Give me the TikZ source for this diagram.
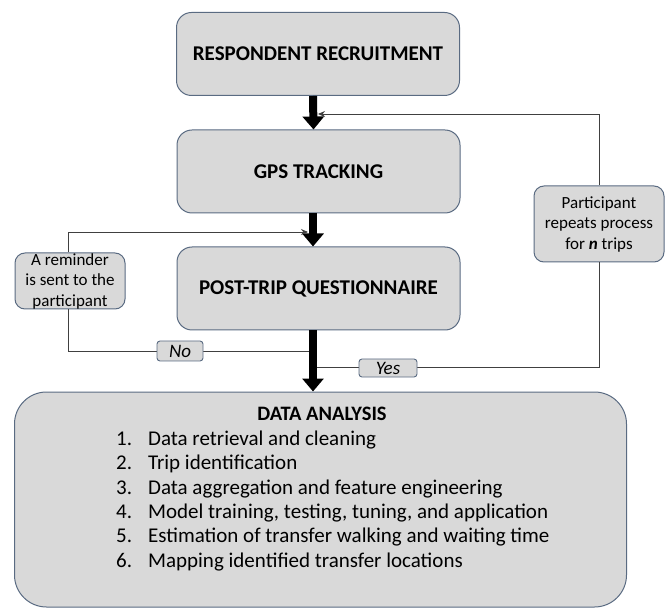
\documentclass[tikz,border=0pt]{standalone}
\usepackage{fontspec}
\setmainfont{Carlito}
\usetikzlibrary{arrows.meta,calc}
\definecolor{boxfill}{HTML}{D9D9D9}
\definecolor{boxedge}{HTML}{5A6B82}
\definecolor{linegray}{HTML}{404040}
\tikzset{
  mainbox/.style={draw=boxedge, line width=1pt, fill=boxfill, rounded corners=15pt,
    minimum width=283pt, minimum height=83pt, inner sep=0pt,
    font=\fontsize{21}{24}\selectfont\bfseries},
  sidebox/.style={draw=boxedge, line width=1pt, fill=boxfill, rounded corners=10pt,
    inner sep=0pt, align=center, font=\fontsize{17}{20.5}\selectfont},
  tagbox/.style={draw=boxedge, line width=0.9pt, fill=boxfill, rounded corners=3pt,
    inner sep=0pt, font=\fontsize{19}{21}\selectfont\itshape},
  bigarrow/.style={line width=8pt, -{Triangle[length=13pt,width=21pt]}},
  thinline/.style={draw=linegray, line width=0.9pt},
  thinarrow/.style={thinline, -{Stealth[length=7pt,width=6pt]}}
}
\begin{document}
\begin{tikzpicture}[x=1pt,y=-1pt]
\useasboundingbox (0,0) rectangle (669,609);
\begin{scope}
\clip (0,0) rectangle (669,609);
% main boxes
\node[mainbox] (rr) at (318,54) {RESPONDENT RECRUITMENT};
\node[mainbox] (gps) at (318.5,171.5) {GPS TRACKING};
\node[mainbox] (ptq) at (318.5,288.5) {POST-TRIP QUESTIONNAIRE};
\node[draw=boxedge, line width=1pt, fill=boxfill, rounded corners=32pt,
      minimum width=612pt, minimum height=215pt, inner sep=0pt] (da) at (320.5,499.5) {};
\node[font=\fontsize{20.5}{23}\selectfont\bfseries] (dat) at (322,414) {DATA ANALYSIS};
\node[anchor=north west, inner sep=0pt, font=\fontsize{21}{24.4}\selectfont] (dal) at (116,428)
{\begin{tabular}{@{}r@{\hspace{16pt}}l@{}}
1. & Data retrieval and cleaning\\
2. & Trip identification\\
3. & Data aggregation and feature engineering\\
4. & Model training, testing, tuning, and application\\
5. & Estimation of transfer walking and waiting time\\
6. & Mapping identified transfer locations
\end{tabular}};
% side boxes
\node[sidebox, minimum width=110pt, minimum height=56pt] (rem) at (70,281)
  {A reminder\\is sent to the\\participant};
\node[sidebox, minimum width=130pt, minimum height=76pt] (rep) at (599,224)
  {Participant\\repeats process\\for \textbf{\textit{n}} trips};
% thick arrows
\draw[bigarrow] ([xshift=-5pt]rr.south) -- ([xshift=-5pt]gps.north);
\draw[bigarrow] ([xshift=-5.5pt]gps.south) -- ([xshift=-5.5pt]ptq.north);
\draw[bigarrow] ([xshift=-5.5pt]ptq.south) -- (da.north -| {313,0});
% loops
\coordinate (remin) at (308,232);
\coordinate (remout) at (309,351);
\coordinate (repin) at (318,114);
\coordinate (repout) at (317,367);
\draw[thinarrow] (rem.north -| {68,0}) |- (remin);
\draw[thinline] (rem.south -| {68,0}) |- (remout);
\draw[thinarrow] (rep.north) |- (repin);
\draw[thinline] (rep.south) |- (repout);
\node[tagbox, minimum width=46pt, minimum height=20pt] (no) at (180,351) {No};
\node[tagbox, minimum width=58pt, minimum height=18pt] (yes) at (388,368) {Yes};
\end{scope}
\end{tikzpicture}
\end{document}
